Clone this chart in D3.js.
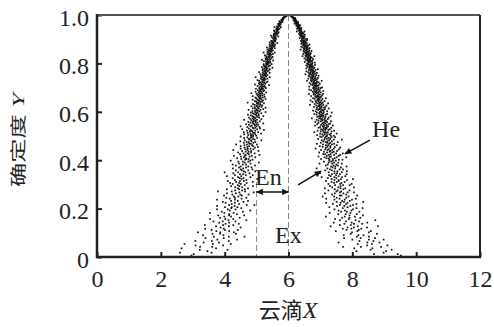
<!DOCTYPE html>
<html><head><meta charset="utf-8">
<script src="https://cdn.jsdelivr.net/npm/d3@7"></script>
<style>body{margin:0;background:#fff}svg{display:block}
.serif{font-family:'Liberation Serif','Times New Roman',serif}
.cjk{font-family:'Noto Sans CJK SC','Noto Sans CJK JP',sans-serif}</style>
</head><body>
<svg id="chart" width="494" height="327"></svg>
<script>
// ---- data ----
const xTickValues = [0, 2, 4, 6, 8, 10, 12];
const yTickValues = [0, 0.2, 0.4, 0.6, 0.8, 1.0];
const yTickText = ["0", "0.2", "0.4", "0.6", "0.8", "1.0"];
const xTitle = ["云滴", "X"];
const yTitle = ["确定度", " Y"];
const exValue = 6;      // Ex
const enLeft = 5;       // Ex - En
// cloud drops, rows: [certainty y, drop x, drop x, ...]
const dropRows = [
[.006,2.96,9.52],[.012,3.03,8.68,9.42],[.018,2.60,3.59,8.98],[.024,3.46,9.06,8.13],
[.03,3.22,4.09,8.57,9.23],[.036,3.73,2.65,8.63,8.06],[.042,3.23,3.61,7.71,8.90,8.27],
[.048,3.95,3.09,8.46,9.10],[.054,3.63,4.19,8.61,8.17,2.74],[.06,3.34,3.82,7.57,8.47,8.85],
[.066,4.13,3.60,3.08,8.22,8.66],[.072,4.39,3.77,8.52,8.0,8.98],[.078,3.40,3.97,8.26,7.74,8.71],
[.084,3.66,4.13,4.62,8.14,8.52],[.09,3.96,3.32,8.35,7.73,8.19],[.096,3.62,4.35,3.86,7.95,8.77],
[.102,3.86,4.29,8.52,7.99,3.16],[.107,4.14,3.74,7.48,8.16,8.58],[.112,3.59,4.01,4.41,8.20,7.82],
[.117,3.97,3.39,7.70,8.28,7.97],[.122,4.50,3.87,8.46,7.85,8.05],[.127,4.13,3.73,7.32,8.17,8.80],
[.132,3.95,4.27,3.38,7.95,7.61],[.137,4.44,4.03,8.31,8.05,7.75],[.142,3.83,4.14,7.42,8.47,7.98],
[.147,4.34,3.65,3.94,7.80,8.21],[.152,4.12,4.68,8.10,7.61,8.72],[.157,4.02,3.54,4.27,7.89,7.46],
[.162,4.47,3.86,7.91,8.25,7.68],[.167,4.20,3.99,7.17,8.08,7.76],[.172,3.80,4.61,4.14,7.91,8.33],
[.177,4.38,4.14,7.56,8.14,7.79],[.182,3.99,4.28,3.54,7.29,7.94],[.187,4.57,3.91,7.65,7.83,8.22],
[.192,4.16,4.80,7.97,7.57,7.77],[.197,4.34,3.76,4.10,8.02,7.44],
[.202,4.21,4.52,8.13,7.70,8.32],[.206,4.01,4.40,7.28,7.85,4.22],[.211,4.31,3.76,7.52,7.94,7.75],
[.215,4.69,4.14,8.02,7.61,4.93],[.219,4.45,4.22,7.39,8.13,7.80],[.224,4.03,4.32,7.18,7.85,7.63],
[.228,4.59,3.94,7.74,7.51,8.34],[.232,4.20,4.41,4.73,7.92,7.68],[.237,4.32,3.76,7.44,7.76,7.99],
[.241,4.53,4.16,7.60,7.18,8.11],[.245,4.05,4.68,4.32,7.51,7.81],[.25,4.43,4.29,7.07,7.88,7.43],
[.254,3.98,4.54,7.66,7.61,8.15],[.258,4.75,4.24,4.49,7.81,7.37],[.263,4.35,4.07,7.45,7.72,7.14],
[.267,4.46,4.91,7.85,7.61,8.05],[.271,4.22,4.64,3.79,7.50,7.65],[.275,4.55,4.33,7.25,7.91,7.54],
[.28,4.07,4.45,4.63,7.72,7.45],[.284,4.73,4.41,7.78,7.14,7.63],[.288,4.33,4.55,8.05,7.37,7.56],
[.293,4.89,4.20,4.46,7.63,7.30],[.297,4.41,4.63,7.92,7.46,7.71],
[.302,4.51,4.25,7.25,7.62,7.98],[.306,4.69,4.45,4.17,7.43,7.66],[.31,4.36,4.88,7.51,7.76,7.35],
[.314,4.60,4.10,7.57,7.17,4.48],[.318,4.32,4.68,7.44,7.83,7.57],[.322,4.53,5.02,7.64,7.35,8.02],
[.326,4.25,4.59,4.47,7.23,7.50],[.33,4.81,4.42,7.68,7.44,7.04],[.334,4.52,4.07,7.32,7.57,7.78],
[.338,4.66,4.32,4.88,7.49,7.27],[.342,4.48,4.58,7.82,7.36,7.61],[.346,4.78,4.27,7.44,6.99,7.52],
[.35,4.42,4.65,4.0,7.26,7.67],[.354,4.60,4.96,7.53,7.44,7.83],[.358,4.35,4.74,4.54,7.15,7.36],
[.362,4.87,4.50,7.60,7.30,7.71],[.366,4.58,4.26,7.22,7.46,6.88],[.37,4.67,4.45,4.84,7.38,7.64],
[.374,4.50,4.74,7.82,7.33,7.47],[.378,4.95,4.35,7.41,7.17,7.55],[.382,4.57,4.67,4.25,7.23,7.50],
[.386,4.81,4.45,7.37,6.97,7.67],[.39,4.63,5.07,7.43,7.26,7.56],[.394,4.43,4.74,4.57,7.11,7.34],
[.398,4.80,4.19,7.48,7.28,7.39],
[.402,4.64,4.87,7.58,7.28,7.69],[.405,4.75,4.52,7.02,7.39,4.68],[.408,4.39,4.67,7.19,7.45,7.26],
[.412,4.96,4.60,7.51,7.13,7.81],[.415,4.51,4.78,7.33,7.29,6.94],[.418,4.85,4.29,4.63,7.57,7.20],
[.422,4.66,5.09,7.26,7.43,7.62],[.425,4.76,4.48,7.09,7.32,7.15],[.428,4.59,4.94,4.72,7.49,7.70],
[.432,4.83,4.42,7.21,7.37,6.96],[.435,4.66,4.75,7.42,7.11,7.29],[.438,5.06,4.55,4.83,7.31,7.52],
[.442,4.72,4.27,7.22,7.02,7.37],[.445,4.90,4.65,7.58,7.26,7.15],[.448,4.50,4.81,4.72,6.85,7.42],
[.452,4.95,4.62,7.31,7.17,7.62],[.455,4.71,5.04,7.22,7.45,7.07],[.458,4.77,4.50,4.89,7.31,6.98],
[.462,4.62,4.86,7.24,7.51,7.17],[.465,5.01,4.70,4.36,7.08,7.36],[.468,4.77,4.82,7.43,6.89,7.27],
[.472,4.90,4.60,7.21,7.31,7.01],[.475,4.69,4.96,4.75,7.54,7.16],[.478,4.84,4.49,7.09,7.22,7.36],
[.482,4.63,5.15,4.83,7.27,7.04],[.485,4.94,4.77,7.42,7.12,7.67],[.488,4.75,4.89,7.31,6.93,7.20],
[.492,5.02,4.61,4.81,7.14,7.26],[.495,4.71,4.84,7.04,7.35,7.46],[.498,4.89,4.50,7.20,6.99,7.17],
[.501,4.83,4.99,7.32,7.09,7.42],[.504,4.74,4.89,6.90,7.21,4.83],[.507,4.96,4.61,7.14,7.28,7.06],
[.51,4.81,5.14,7.33,6.99,7.51],[.513,4.89,4.72,4.94,7.20,7.12],[.516,4.60,5.05,7.15,7.23,6.81],
[.519,4.87,4.79,7.01,7.35,7.09],[.522,4.96,4.70,4.84,7.43,6.91],[.525,4.81,5.23,7.07,7.25,7.15],
[.528,5.02,4.55,7.16,7.02,7.29],[.531,4.76,4.91,5.11,7.19,7.10],[.534,4.88,4.96,7.34,6.94,7.16],
[.537,5.09,4.71,7.10,7.20,6.99],[.54,4.81,5.0,4.50,7.07,7.24],[.543,4.95,4.85,6.83,7.13,7.39],
[.546,4.76,5.05,7.10,7.02,7.20],[.549,4.93,4.67,4.99,7.26,6.90],[.552,4.89,5.21,7.16,7.06,7.30],
[.555,5.03,4.81,7.09,6.94,7.12],[.558,4.74,4.97,4.88,6.84,7.21],[.561,5.10,4.91,7.01,7.33,7.15],
[.564,4.84,4.96,6.94,7.18,7.06],[.567,5.01,4.61,4.91,7.12,6.88],[.57,4.81,5.15,7.02,7.23,7.06],
[.573,4.96,4.88,6.96,7.14,6.73],[.576,5.08,4.76,4.94,7.26,7.0],[.579,4.91,5.02,7.16,6.90,7.08],
[.582,5.21,4.87,7.02,7.32,6.96],[.585,4.82,5.0,5.07,7.09,7.04],[.588,4.97,4.73,6.88,7.16,6.99],
[.591,5.06,4.92,7.05,6.81,7.21],[.594,4.88,5.15,4.99,6.96,7.09],[.597,5.03,4.82,7.03,6.89,7.35],
[.599,4.96,5.28,7.10,6.98,7.01],
[.602,5.09,4.87,7.01,6.85,7.21],[.605,4.95,5.04,6.77,7.10,5.01],[.608,5.12,4.75,7.03,6.93,7.07],
[.611,5.0,5.21,7.14,6.96,6.88],[.614,4.88,5.07,4.95,6.99,7.26],[.617,5.04,5.28,6.89,7.10,7.02],
[.62,4.94,5.15,6.98,6.80,7.15],[.623,5.08,4.84,5.01,7.04,6.93],[.626,5.0,5.18,7.19,6.87,6.96],
[.629,5.13,4.94,6.67,7.01,7.09],[.632,4.89,5.05,5.11,6.97,6.82],[.635,5.23,5.01,7.04,6.92,7.24],
[.638,5.05,4.72,6.87,7.08,6.98],[.641,5.11,4.99,5.17,6.75,7.0],[.644,4.95,5.09,6.94,7.13,6.85],
[.647,5.20,5.05,6.90,7.03,6.69],[.65,5.02,5.15,4.88,6.97,6.92],[.653,5.09,5.28,7.06,6.82,6.93],
[.656,4.99,5.13,6.95,6.77,7.17],[.659,5.19,4.96,5.09,6.89,6.99],[.662,5.06,5.25,6.84,7.02,6.95],
[.665,5.12,4.88,6.91,6.71,6.86],[.668,5.03,5.18,5.11,7.05,6.92],[.671,5.24,5.06,6.84,6.98,6.79],
[.674,5.0,5.13,6.94,6.64,7.08],[.677,5.18,5.10,4.84,6.88,6.79],[.68,5.06,5.30,7.01,6.84,6.91],
[.683,5.16,4.97,6.76,6.95,6.87],[.686,5.12,5.22,5.09,6.82,7.09],[.689,5.24,5.04,6.88,6.71,6.98],
[.692,5.11,5.17,6.80,6.92,6.65],[.695,5.20,4.98,5.15,6.94,6.84],[.698,5.08,5.29,6.87,6.77,7.01],
[.701,5.16,5.27,6.94,6.80,7.05],[.704,5.11,5.22,6.65,6.85,5.18],[.707,5.25,5.03,6.87,6.80,6.91],
[.71,5.16,5.39,6.76,6.94,6.83],[.713,5.20,5.09,4.95,6.70,6.87],[.716,5.14,5.27,6.82,6.98,6.77],
[.719,5.24,5.08,6.88,6.66,6.84],[.722,5.12,5.20,5.31,6.78,6.94],[.725,5.34,5.17,6.89,6.72,6.80],
[.728,5.08,5.24,6.81,6.58,7.04],[.731,5.21,5.03,6.74,6.85,6.70],[.734,5.28,5.17,5.23,6.89,6.79],
[.737,5.13,5.34,6.75,6.81,6.62],[.74,5.25,5.22,6.92,6.70,6.84],[.743,5.17,5.41,4.97,6.76,6.72],
[.746,5.30,5.13,6.78,6.66,6.84],[.749,5.22,5.28,6.63,6.94,6.76],[.752,5.34,5.18,5.25,6.73,6.87],
[.755,5.12,5.26,6.68,6.79,6.53],[.758,5.30,5.23,6.83,6.65,6.75],[.761,5.19,5.41,5.29,6.89,6.69],
[.764,5.28,5.08,6.76,6.62,6.79],[.767,5.24,5.34,6.72,6.82,6.56],[.77,5.38,5.19,5.27,6.69,6.77],
[.773,5.28,5.31,6.85,6.64,6.75],[.776,5.19,5.41,6.66,6.71,6.92],[.779,5.34,5.24,5.32,6.78,6.56],
[.782,5.28,5.50,6.74,6.66,6.81],[.785,5.31,5.17,6.60,6.71,6.68],[.788,5.25,5.38,5.28,6.77,6.66],
[.791,5.42,5.23,6.68,6.73,6.56],[.794,5.31,5.35,6.83,6.61,6.68],[.797,5.22,5.47,6.69,6.63,6.73],
[.799,5.37,5.30,5.34,6.74,6.58],
[.803,5.34,5.43,6.75,6.62,6.83],[.806,5.30,5.40,6.51,6.67,5.36],[.809,5.42,5.23,6.68,6.62,6.72],
[.812,5.34,5.52,6.59,6.75,6.65],[.815,5.38,5.29,5.17,6.54,6.68],[.818,5.33,5.44,6.63,6.77,6.59],
[.821,5.42,5.28,6.68,6.50,6.65],[.824,5.32,5.38,5.48,6.60,6.73],[.827,5.50,5.37,6.69,6.55,6.62],
[.83,5.30,5.42,6.63,6.44,6.81],[.833,5.40,5.26,6.57,6.65,6.53],[.836,5.46,5.37,5.42,6.68,6.60],
[.839,5.34,5.51,6.57,6.62,6.46],[.842,5.43,5.40,6.70,6.53,6.64],[.845,5.37,5.57,5.22,6.57,6.54],
[.848,5.47,5.34,6.59,6.49,6.64],[.851,5.41,5.45,6.47,6.72,6.57],[.854,5.51,5.38,5.44,6.55,6.65],
[.857,5.34,5.45,6.51,6.59,6.38],[.86,5.48,5.42,6.61,6.48,6.56],[.863,5.40,5.57,5.49,6.66,6.50],
[.866,5.48,5.32,6.56,6.45,6.58],[.869,5.44,5.53,6.52,6.60,6.40],[.872,5.56,5.41,5.47,6.50,6.56],
[.875,5.49,5.51,6.61,6.46,6.53],[.878,5.41,5.58,6.47,6.51,6.66],[.881,5.53,5.46,5.51,6.56,6.40],
[.884,5.50,5.65,6.52,6.46,6.57],[.887,5.52,5.41,6.42,6.50,6.48],[.89,5.48,5.57,5.50,6.54,6.46],
[.893,5.59,5.46,6.47,6.51,6.39],[.896,5.53,5.56,6.58,6.42,6.47],
[.901,5.54,5.61,6.52,6.42,6.58],[.904,5.52,5.58,6.35,6.46,5.56],[.908,5.60,5.48,6.46,6.43,6.49],
[.911,5.55,5.68,6.39,6.50,6.43],[.915,5.59,5.53,5.45,6.36,6.45],[.918,5.56,5.64,6.41,6.51,6.39],
[.922,5.62,5.54,6.44,6.33,6.41],[.925,5.57,5.61,5.67,6.38,6.47],[.929,5.69,5.61,6.43,6.35,6.38],
[.932,5.56,5.64,6.39,6.26,6.50],[.936,5.64,5.55,6.34,6.39,6.32],[.939,5.68,5.62,5.65,6.40,6.36],
[.943,5.62,5.72,6.33,6.36,6.27],[.946,5.67,5.66,6.40,6.30,6.36],[.95,5.65,5.76,5.56,6.32,6.30],
[.953,5.71,5.64,6.32,6.27,6.34],[.957,5.69,5.71,6.24,6.37,6.30],[.96,5.75,5.69,5.71,6.28,6.33],
[.964,5.68,5.73,6.25,6.29,6.19],[.967,5.76,5.73,6.29,6.23,6.26],[.971,5.73,5.81,5.77,6.30,6.22],
[.974,5.78,5.71,6.24,6.19,6.25],[.978,5.78,5.81,6.21,6.24,6.16],[.981,5.83,5.78,5.80,6.19,6.21],
[.985,5.83,5.83,6.21,6.15,6.18],[.988,5.82,5.87,6.15,6.16,6.20],[.992,5.88,5.86,5.88,6.14,6.10],
[.995,5.90,5.93,6.11,6.09,6.12],[.998,5.94,6.07,5.94,6.06]
];
// annotation labels (data coordinates)
const notes = [
  {text: "En", x: 4.95, y: 0.298},
  {text: "Ex", x: 5.58, y: 0.058},
  {text: "He", x: 8.62, y: 0.496}
];
const pointers = [
  {x1: 8.55, y1: 0.483, x2: 7.77, y2: 0.426},
  {x1: 6.30, y1: 0.298, x2: 7.02, y2: 0.355}
];
const enArrowY = 0.269;
const enDashTop = 0.31;

// ---- drawing ----
const drops = dropRows.flatMap(r => r.slice(1).map(v => [v, r[0]]));
const svg = d3.select("#chart");
const x = d3.scaleLinear().domain([0, 12]).range([97, 480]);
const y = d3.scaleLinear().domain([0, 1]).range([257, 15]);
const serif = "'Liberation Serif','Times New Roman',serif";
const cjk = "'Noto Sans CJK SC','Noto Sans CJK JP',sans-serif";

const defs = svg.append("defs");
defs.append("marker").attr("id", "ah").attr("viewBox", "0 0 10 10")
  .attr("refX", 9).attr("refY", 5).attr("markerWidth", 8).attr("markerHeight", 7)
  .attr("markerUnits", "userSpaceOnUse").attr("orient", "auto-start-reverse")
  .append("path").attr("d", "M0,0.5L10,5L0,9.5Z").attr("fill", "#111");

// dashed guides
svg.append("line").attr("x1", x(exValue)).attr("x2", x(exValue)).attr("y1", y(1)).attr("y2", y(0))
  .attr("stroke", "#888").attr("stroke-width", 1).attr("stroke-dasharray", "6,3");
svg.append("line").attr("x1", x(enLeft)).attr("x2", x(enLeft)).attr("y1", y(enDashTop)).attr("y2", y(0))
  .attr("stroke", "#888").attr("stroke-width", 1).attr("stroke-dasharray", "6,3");

// drops
svg.append("g").selectAll("rect").data(drops).join("rect")
  .attr("x", d => x(d[0]) - 0.85).attr("y", d => y(d[1]) - 0.85)
  .attr("width", 1.7).attr("height", 1.7).attr("fill", "#111");

// axes
const gx = svg.append("g").attr("transform", `translate(0,${y(0)})`)
  .call(d3.axisBottom(x).tickValues(xTickValues).tickFormat(d3.format("d"))
    .tickSizeInner(-5).tickSizeOuter(0).tickPadding(13));
gx.attr("font-family", null).attr("font-size", null);
gx.select(".domain").remove();
gx.selectAll("line").attr("stroke", "#222").attr("stroke-width", 2);
gx.selectAll("text").attr("class", "serif").style("font-size", "24px").attr("fill", "#222");

const gy = svg.append("g").attr("transform", `translate(${x(0)},0)`)
  .call(d3.axisLeft(y).tickValues(yTickValues).tickFormat((d, i) => yTickText[i])
    .tickSizeInner(-5).tickSizeOuter(0).tickPadding(8));
gy.attr("font-family", null).attr("font-size", null);
gy.select(".domain").remove();
gy.selectAll("line").attr("stroke", "#222").attr("stroke-width", 2);
gy.selectAll("text").attr("class", "serif").style("font-size", "24px").attr("fill", "#222").attr("dy", "0.42em");

// frame
svg.append("line").attr("x1", x(0)).attr("x2", x(12)).attr("y1", y(1)).attr("y2", y(1)).attr("stroke", "#555").attr("stroke-width", 2);
svg.append("line").attr("x1", x(12)).attr("x2", x(12)).attr("y1", y(1)).attr("y2", y(0)).attr("stroke", "#222").attr("stroke-width", 2);
svg.append("line").attr("x1", x(0)).attr("x2", x(0)).attr("y1", y(1) - 1).attr("y2", y(0) + 1.2).attr("stroke", "#222").attr("stroke-width", 2.5);
svg.append("line").attr("x1", x(0)).attr("x2", x(12) + 1).attr("y1", y(0)).attr("y2", y(0)).attr("stroke", "#222").attr("stroke-width", 2.5);

// En double arrow
svg.append("line").attr("x1", x(enLeft)).attr("x2", x(exValue)).attr("y1", y(enArrowY)).attr("y2", y(enArrowY))
  .attr("stroke", "#111").attr("stroke-width", 1.5)
  .attr("marker-start", "url(#ah)").attr("marker-end", "url(#ah)");
// pointers
svg.selectAll(".ptr").data(pointers).join("line").attr("class", "ptr")
  .attr("x1", d => x(d.x1)).attr("y1", d => y(d.y1)).attr("x2", d => x(d.x2)).attr("y2", d => y(d.y2))
  .attr("stroke", "#111").attr("stroke-width", 1.5).attr("marker-end", "url(#ah)");
// labels
svg.selectAll(".note").data(notes).join("text").attr("class", "serif")
  .attr("x", d => x(d.x)).attr("y", d => y(d.y)).text(d => d.text)
  .style("font-size", "24px").attr("fill", "#222");

// axis titles
const xt = svg.append("text").attr("x", 288).attr("y", 318).attr("text-anchor", "middle").attr("fill", "#222");
xt.append("tspan").text(xTitle[0]).attr("class", "cjk").style("font-size", "22px");
xt.append("tspan").text(xTitle[1]).attr("class", "serif").style("font-size", "24px").style("font-style", "italic");

const yt = svg.append("text").attr("transform", "translate(24,140) rotate(-90) scale(1.1,0.72)")
  .attr("text-anchor", "middle").attr("fill", "#222");
yt.append("tspan").text(yTitle[0]).attr("class", "cjk").style("font-size", "22px");
yt.append("tspan").text(yTitle[1]).attr("class", "serif").style("font-size", "24px").style("font-style", "italic");
</script>
</body></html>
